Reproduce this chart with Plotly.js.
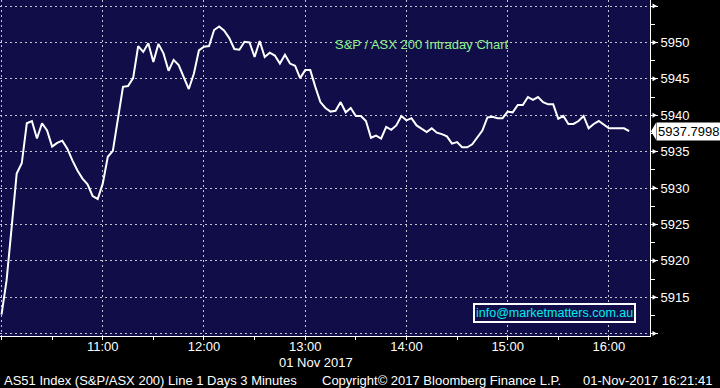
<!DOCTYPE html>
<html>
<head>
<meta charset="utf-8">
<script src="https://cdn.plot.ly/plotly-3.0.1.min.js"></script>
<style>html,body{margin:0;padding:0;background:#000;}#chart{width:720px;height:388px;}</style>
</head>
<body>
<div id="chart"></div>
<script>
// ---- data (3-minute bars, 01 Nov 2017, starting 10:00) ----
const startTime = '2017-11-01 10:00:00';
const stepMinutes = 3;
const values = [
  5912.6, 5917.3, 5924.6, 5932.0, 5933.4, 5938.9, 5939.2, 5936.8, 5938.9, 5937.9,
  5935.7, 5936.2, 5936.5, 5935.4, 5933.8, 5932.4, 5931.3, 5930.5, 5928.9, 5928.5,
  5930.6, 5934.3, 5935.1, 5939.5, 5943.9, 5944.0, 5945.1, 5949.5, 5948.7, 5949.9,
  5947.3, 5949.8, 5948.5, 5946.1, 5947.6, 5946.9, 5945.3, 5943.6, 5945.7, 5948.9,
  5949.4, 5949.5, 5951.7, 5952.2, 5951.6, 5950.6, 5949.1, 5949.0, 5950.1, 5950.0,
  5948.0, 5950.2, 5948.0, 5948.6, 5948.2, 5947.1, 5948.3, 5947.1, 5946.8, 5945.1,
  5946.2, 5946.2, 5943.9, 5941.8, 5941.0, 5940.5, 5940.6, 5941.8, 5940.4, 5941.0,
  5939.9, 5939.9, 5939.2, 5936.9, 5937.2, 5936.8, 5938.4, 5938.0, 5938.6, 5939.9,
  5939.3, 5939.6, 5938.6, 5938.2, 5937.7, 5938.2, 5937.6, 5937.4, 5937.1, 5936.1,
  5936.3, 5935.6, 5935.6, 5936.0, 5936.9, 5937.9, 5939.7, 5939.8, 5939.6, 5939.6,
  5940.5, 5940.4, 5941.4, 5941.4, 5942.5, 5942.1, 5942.5, 5941.8, 5941.5, 5941.5,
  5939.5, 5939.9, 5938.8, 5938.8, 5939.2, 5939.9, 5938.2, 5938.8, 5939.2, 5938.7,
  5938.2, 5938.2, 5938.2, 5938.2, 5937.7998
];
const lastValueText = '5937.7998';
const xTickHours = ['10:00', '11:00', '12:00', '13:00', '14:00', '15:00', '16:00'];
const xTickLabels = ['', '11:00', '12:00', '13:00', '14:00', '15:00', '16:00'];
const xMinorTimes = ['10:30', '11:30', '12:30', '13:30', '14:30', '15:30'];
const yTickVals = [5910, 5915, 5920, 5925, 5930, 5935, 5940, 5945, 5950, 5955];
const yTickLabels = ['', '5915', '5920', '5925', '5930', '5935', '5940', '5945', '5950', '5955'];
const yMinorVals = [5912.5, 5917.5, 5922.5, 5927.5, 5932.5, 5937.5, 5942.5, 5947.5, 5952.5];
const chartTitle = 'S&P / ASX 200 Intraday Chart';
const dateLabel = '01 Nov 2017';
const footerLeft = 'AS51 Index (S&P/ASX 200) Line 1 Days 3 Minutes';
const footerMid = 'Copyright\u00a9 2017 Bloomberg Finance L.P.';
const footerRight = '01-Nov-2017 16:21:41';
const infoText = 'info@marketmatters.com.au';

// ---- build times ----
const day = '2017-11-01 ';
const t0 = new Date(startTime.replace(' ', 'T') + 'Z').getTime();
function fmt(ms) { return new Date(ms).toISOString().replace('T', ' ').slice(0, 19); }
const times = values.map((_, i) => fmt(t0 + i * stepMinutes * 60000));

const Y_RANGE = [5909.67, 5955.83];
const X_RANGE = ['2017-11-01 09:59:06', '2017-11-01 16:24:22'];
const W = 720, H = 388, M = {l: 0, r: 70, t: 0, b: 52};
const PW = W - M.l - M.r, PH = H - M.t - M.b;
const px2x = p => p / PW;
const v2py = v => (v - Y_RANGE[0]) / (Y_RANGE[1] - Y_RANGE[0]);
const pxY = p => p / PH;

const font = 'Liberation Sans, Arial, sans-serif';
const gridCol = '#c4c4cc';

const shapes = [];
yTickVals.forEach(v => {
  const yc = v2py(v);
  shapes.push({type: 'path', xref: 'paper', yref: 'paper',
    path: `M ${1 + px2x(2.5)} ${yc + pxY(2.5)} L ${1 + px2x(7)} ${yc} L ${1 + px2x(2.5)} ${yc - pxY(2.5)} Z`,
    fillcolor: '#ffffff', line: {color: '#ffffff', width: 0}, layer: 'above'});
});
const lv = values[values.length - 1];
const lvy = v2py(lv);
shapes.push({type: 'path', xref: 'paper', yref: 'paper',
  path: `M ${1 + px2x(1)} ${lvy} L ${1 + px2x(6)} ${lvy + pxY(8.5)} L ${1 + px2x(6)} ${lvy - pxY(8.5)} Z`,
  fillcolor: '#ffffff', line: {color: '#ffffff', width: 0}, layer: 'above'});

const annotations = [
  {text: chartTitle, xref: 'paper', yref: 'paper', x: px2x(333), y: 1 - pxY(45),
   xanchor: 'left', yanchor: 'middle', showarrow: false,
   font: {family: font, size: 13, color: '#8cf08c'}},
  {text: infoText, xref: 'paper', yref: 'paper', x: px2x(554.5), y: 1 - pxY(312.5),
   xanchor: 'center', yanchor: 'middle', showarrow: false,
   font: {family: font, size: 12.5, color: '#00eeee'},
   bordercolor: '#ffffff', borderwidth: 2, borderpad: 1, bgcolor: '#110d48'},
  {text: lastValueText, xref: 'paper', yref: 'y', x: 1 + px2x(5.5), y: lv,
   xanchor: 'left', yanchor: 'middle', showarrow: false,
   font: {family: font, size: 13, color: '#000000'}, bgcolor: '#ffffff', borderpad: 1},
  {text: dateLabel, xref: 'paper', yref: 'paper', x: px2x(316), y: -pxY(26.5),
   xanchor: 'center', yanchor: 'middle', showarrow: false,
   font: {family: font, size: 13, color: '#ffffff'}},
  {text: footerLeft, xref: 'paper', yref: 'paper', x: px2x(2), y: -pxY(44),
   xanchor: 'left', yanchor: 'middle', showarrow: false,
   font: {family: font, size: 13, color: '#ffffff'}},
  {text: footerMid, xref: 'paper', yref: 'paper', x: px2x(320), y: -pxY(44),
   xanchor: 'left', yanchor: 'middle', showarrow: false,
   font: {family: font, size: 13, color: '#ffffff'}},
  {text: footerRight, xref: 'paper', yref: 'paper', x: px2x(714), y: -pxY(44),
   xanchor: 'right', yanchor: 'middle', showarrow: false,
   font: {family: font, size: 13, color: '#ffffff'}}
];

const trace = {x: times, y: values, type: 'scatter', mode: 'lines',
  line: {color: '#ffffff', width: 2}, hoverinfo: 'skip'};

const layout = {
  width: W, height: H, margin: M,
  paper_bgcolor: '#000000', plot_bgcolor: '#110d48',
  showlegend: false,
  font: {family: font, size: 13, color: '#ffffff'},
  xaxis: {type: 'date', range: X_RANGE,
    tickmode: 'array', tickvals: xTickHours.map(h => day + h), ticktext: xTickLabels,
    ticks: 'outside', ticklen: 3, tickcolor: '#ffffff', tickwidth: 1,
    ticklabelstandoff: -5,
    showline: true, linecolor: '#ffffff', linewidth: 1,
    showgrid: true, gridcolor: gridCol, griddash: '2px,3px', gridwidth: 1,
    zeroline: false,
    minor: {tickmode: 'array', tickvals: xMinorTimes.map(h => day + h), ticks: 'outside',
      ticklen: 3, tickcolor: '#ffffff', showgrid: false},
    tickfont: {family: font, size: 13, color: '#ffffff'}},
  yaxis: {side: 'right', range: Y_RANGE,
    tickmode: 'array', tickvals: yTickVals, ticktext: yTickLabels,
    ticks: 'outside', ticklen: 7, tickcolor: '#ffffff', tickwidth: 1,
    showline: true, linecolor: '#ffffff', linewidth: 1,
    showgrid: true, gridcolor: gridCol, griddash: '2px,3px', gridwidth: 1,
    zeroline: false,
    minor: {tickmode: 'array', tickvals: yMinorVals, ticks: 'outside', ticklen: 4,
      tickcolor: '#ffffff', showgrid: false},
    tickfont: {family: font, size: 13, color: '#ffffff'}},
  shapes: shapes,
  annotations: annotations
};

Plotly.newPlot('chart', [trace], layout, {staticPlot: true, displayModeBar: false});
</script>
</body>
</html>
